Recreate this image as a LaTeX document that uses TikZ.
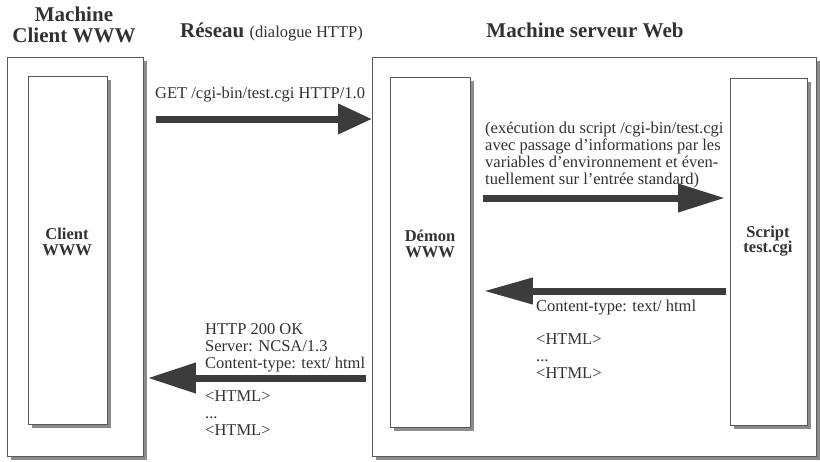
\documentclass[tikz,border=0pt]{standalone}
\usepackage{fontspec}
\setmainfont{Liberation Serif}
\usetikzlibrary{arrows.meta,shadows}

\begin{document}
\begin{tikzpicture}[x=1pt,y=-1pt,
    machinebox/.style={draw=black!65, line width=0.8pt, fill=white, inner sep=0pt,
      anchor=north west,
      drop shadow={shadow xshift=4pt, shadow yshift=-4pt, fill=black!45, opacity=1}},
    boxlabel/.style={font=\fontsize{16.5}{15.5}\selectfont\bfseries, text=inkgray, align=center, inner sep=0pt},
    msg/.style={font=\fontsize{16.5}{16.7}\selectfont, text=inkgray, align=left, inner sep=0pt, anchor=base west},
    title/.style={font=\fontsize{21}{21}\selectfont\bfseries, text=inkgray, align=center, inner sep=0pt, anchor=base},
    fatarrow/.style={line width=7pt, draw=arrowgray}]
    % Colours
    \definecolor{inkgray}{RGB}{50,50,50}
    \definecolor{arrowgray}{RGB}{60,60,60}

    \useasboundingbox (0,0) rectangle (820,461);

    % Titles (base = last line)
    \node[title] (titleclient) at (74,42) {Machine\\Client WWW};
    \node[title, anchor=base west] (titlenet) at (180,37)
        {Réseau {\mdseries\fontsize{16.5}{16.5}\selectfont (dialogue HTTP)}};
    \node[title] (titleserver) at (585,37) {Machine serveur Web};

    % Machines and programs
    \node[machinebox, minimum width=136pt, minimum height=399pt] (clientmachine) at (7,57) {};
    \node[machinebox, minimum width=79pt, minimum height=348pt] (client) at (28,76) {};
    \node[machinebox, minimum width=444pt, minimum height=399pt] (servermachine) at (372,57) {};
    \node[machinebox, minimum width=80pt, minimum height=350pt] (daemon) at (390,77) {};
    \node[machinebox, minimum width=77pt, minimum height=347pt] (script) at (730,78) {};

    \node[boxlabel] (clientlbl) at (67,242) {Client\\WWW};
    \node[boxlabel] (daemonlbl) at (430,244) {Démon\\WWW};
    \node[boxlabel] (scriptlbl) at (768,241) {Script\\test.cgi};

    % Rows of the arrows
    \coordinate (getrow) at (0,119);
    \coordinate (execrow) at (0,198);
    \coordinate (retrow) at (0,291);
    \coordinate (resprow) at (0,378);

    % Request
    \draw[fatarrow, -{Triangle[length=34pt, width=29pt]}, shorten <=12pt]
        (clientmachine.east |- getrow) -- (servermachine.west |- getrow);
    \node[msg] (getmsg) at (155,98) {GET /cgi-bin/test.cgi HTTP/1.0};

    % Script execution
    \draw[fatarrow, -{Triangle[length=47pt, width=27pt]}, shorten <=12pt, shorten >=5pt]
        (daemon.east |- execrow) -- (script.west |- execrow);
    \node[msg] (execmsg) at (485,184)
        {(exécution du script /cgi-bin/test.cgi\\
         avec passage d’informations par les\\
         variables d’environnement et éven-\\
         tuellement sur l’entrée standard)};

    % Script output
    \draw[fatarrow, -{Triangle[length=49pt, width=25pt]}, shorten <=4pt, shorten >=13pt]
        (script.west |- retrow) -- (daemon.east |- retrow);
    \node[msg] (retmsg) at (536,378)
        {Content-type: text/ html\\[16.7pt]
         <HTML>\\
         ...\\
         <HTML>};

    % Response
    \draw[fatarrow, -{Triangle[length=48pt, width=29pt]}, shorten <=6pt, shorten >=4pt]
        (servermachine.west |- resprow) -- (clientmachine.east |- resprow);
    \node[msg] (respmsg) at (205,435)
        {HTTP 200 OK\\
         Server: NCSA/1.3\\
         Content-type: text/ html\\[16.7pt]
         <HTML>\\
         ...\\
         <HTML>};
\end{tikzpicture}
\end{document}
